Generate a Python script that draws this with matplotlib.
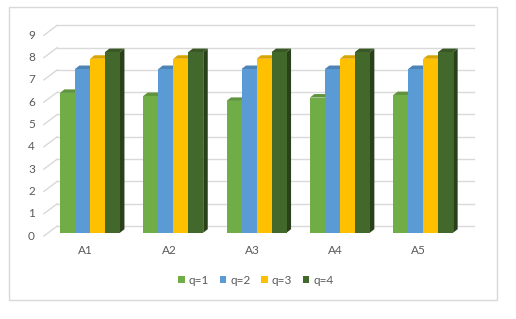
import matplotlib
matplotlib.use("Agg")
import matplotlib.pyplot as plt
from matplotlib.patches import Polygon, Rectangle, Patch
import matplotlib.colors as mcolors

plt.rcParams['font.family'] = ['Lato', 'DejaVu Sans']

categories = ['A1', 'A2', 'A3', 'A4', 'A5']
series_names = ['q=1', 'q=2', 'q=3', 'q=4']
q1 = [6.27, 6.13, 5.91, 6.06, 6.17]
q2 = [7.34, 7.34, 7.34, 7.34, 7.34]
q3 = [7.80, 7.80, 7.80, 7.80, 7.80]
q4 = [8.10, 8.10, 8.10, 8.10, 8.10]
series = [q1, q2, q3, q4]
colors = ['#70AD47', '#5B9BD5', '#FFC000', '#43682B']
yticks = list(range(0, 10))

W, H = 516, 319
fig = plt.figure(figsize=(W / 100, H / 100), dpi=100)

# outer chart border
fig.patches.append(Rectangle((9 / W, 1 - 300 / H), 488 / W, 293 / H,
                             transform=fig.transFigure, fill=False,
                             edgecolor='#d9d9d9', lw=1))

# axes = plane of the bar front faces (pixel layout)
ax_l, ax_b = 48.3, 232.7
ax_w, ax_h = 416.5, 9 * 22.3
ax = fig.add_axes([ax_l / W, 1 - ax_b / H, ax_w / W, ax_h / H])
ax.set_xlim(0, 5)
ax.set_ylim(0, 9)
ax.axis('off')

pxx = ax_w / 5.0      # pixels per x unit
pxy = ax_h / 9.0      # pixels per y unit

def dx(p):
    return p / pxx

def dy(p):
    return p / pxy

# depth offsets in pixels (right, up)
back = (8.9, 6.7)     # back wall relative to bar front plane
front = (-4.4, -3.3)  # front plane relative to bar front plane
bar_d = (4.5, 3.5)    # bar depth

fs = 8.5
tc = '#595959'
grid = '#d9d9d9'
for k in yticks:
    ax.plot([dx(back[0]), 5 + dx(back[0])], [k + dy(back[1]), k + dy(back[1])],
            color=grid, lw=1, zorder=1, clip_on=False)
    ax.plot([dx(front[0]), dx(back[0])], [k + dy(front[1]), k + dy(back[1])],
            color=grid, lw=1, zorder=1, clip_on=False)
    ax.text(dx(front[0] - 9), k + dy(front[1]), str(k), ha='right', va='center',
            fontsize=fs, color=tc)

def shade(c, f):
    r, g, b = mcolors.to_rgb(c)
    return (r * f, g * f, b * f)

bw = 15 / pxx
gap = (1 - 4 * bw) / 2
z = 2
for i, cat in enumerate(categories):
    for j, vals in enumerate(series):
        v = vals[i]
        x0 = i + gap + j * bw
        x1 = x0 + bw
        ddx, ddy = dx(bar_d[0]), dy(bar_d[1])
        side = Polygon([(x1, 0), (x1 + ddx, ddy), (x1 + ddx, v + ddy), (x1, v)],
                       closed=True, facecolor=shade(colors[j], 0.62), edgecolor='none',
                       zorder=z, clip_on=False)
        top = Polygon([(x0, v), (x1, v), (x1 + ddx, v + ddy), (x0 + ddx, v + ddy)],
                      closed=True, facecolor=shade(colors[j], 0.85), edgecolor='none',
                      zorder=z, clip_on=False)
        ax.add_patch(side)
        ax.add_patch(top)
        ax.bar(x0, v, width=bw, align='edge', color=colors[j], zorder=z + 0.5,
               clip_on=False)
        z += 1
    ax.text(i + 0.5 + dx(front[0]), dy(-18), cat, ha='center', va='center',
            fontsize=fs, color=tc)

handles = [Patch(facecolor=c, edgecolor='none') for c in colors]
fig.legend(handles, series_names, loc='center', bbox_to_anchor=(256 / W, 1 - 280 / H),
           ncol=4, frameon=False, fontsize=fs, handlelength=0.55, handleheight=0.55,
           handletextpad=0.35, columnspacing=0.9, labelcolor=tc)

fig.savefig('out.png', dpi=100, facecolor='white')
